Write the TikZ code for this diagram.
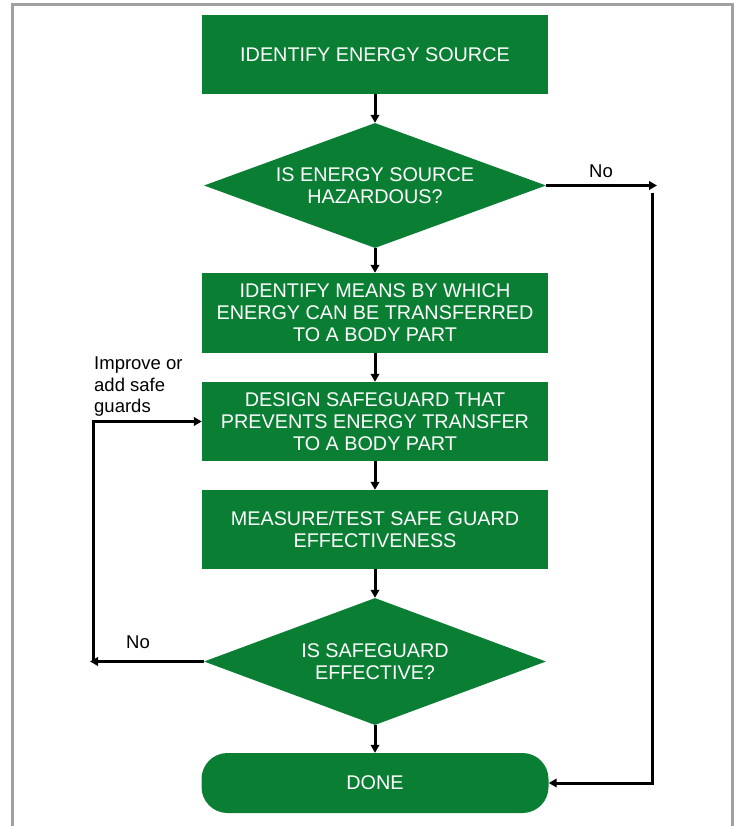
\documentclass[tikz,border=0pt]{standalone}
\usepackage{fontspec}
\setmainfont{Liberation Sans}
\usetikzlibrary{shapes.geometric,arrows.meta}
\definecolor{flowgreen}{RGB}{10,127,52}
\definecolor{framegray}{RGB}{160,160,160}
\begin{document}
\begin{tikzpicture}[x=1pt,y=-1pt,
    stepbox/.style={rectangle,fill=flowgreen,text=white,align=center,
      minimum width=346pt,minimum height=79pt,inner sep=0pt,
      font=\fontsize{19.8}{22}\selectfont},
    decision/.style={diamond,aspect=2.75,fill=flowgreen,text=white,align=center,
      minimum width=342pt,minimum height=125pt,inner sep=0pt,
      font=\fontsize{19.8}{22}\selectfont},
    endbox/.style={stepbox,rounded corners=26pt,minimum height=60pt,minimum width=347pt},
    arr/.style={line width=3pt,-{Triangle[length=8pt,width=8.5pt]}},
    lbl/.style={font=\fontsize{18.5}{21.5}\selectfont,inner sep=0pt}]
  \useasboundingbox (0,0) rectangle (739,826);

  % frame
  \draw[framegray,line width=3pt] (12,840) -- (12,5) -- (732,5) -- (732,840);

  % steps
  \node[stepbox] (ident) at (375,54.5) {IDENTIFY ENERGY SOURCE};
  \node[decision] (hazard) at (375,185.5) {IS ENERGY SOURCE\\HAZARDOUS?};
  \node[stepbox,minimum height=80pt] (means) at (375,313) {IDENTIFY MEANS BY WHICH\\ENERGY CAN BE TRANSFERRED\\TO A BODY PART};
  \node[stepbox] (design) at (375,421.5) {DESIGN SAFEGUARD THAT\\PREVENTS ENERGY TRANSFER\\TO A BODY PART};
  \node[stepbox] (measure) at (375,529.5) {MEASURE/TEST SAFE GUARD\\EFFECTIVENESS};
  \node[decision,minimum height=127pt] (effective) at (375,661.5) {IS SAFEGUARD\\EFFECTIVE?};
  \node[endbox] (done) at (375,783) {DONE};

  % main line
  \draw[arr] (ident) -- (hazard);
  \draw[arr] (hazard) -- (means);
  \draw[arr] (means) -- (design);
  \draw[arr] (design) -- (measure);
  \draw[arr] (measure) -- (effective);
  \draw[arr] (effective) -- (done);

  % not hazardous
  \coordinate (hazno) at (657,185.5);
  \coordinate (rtop) at (652,193);
  \draw[arr] (hazard.east) -- (hazno);
  \draw[arr] (rtop) |- (done.east);
  \node[lbl] (nor) at (601,171) {No};

  % not effective
  \coordinate (effno) at (90,661.5);
  \coordinate (lbot) at (93,661.5);
  \draw[arr] (effective.west) -- (effno);
  \draw[arr] (lbot) |- (design.west);
  \node[lbl] (nol) at (138,642) {No};
  \node[lbl,align=left,anchor=west] (improve) at (94,387) {Improve or\\add safe\\guards};
\end{tikzpicture}
\end{document}
